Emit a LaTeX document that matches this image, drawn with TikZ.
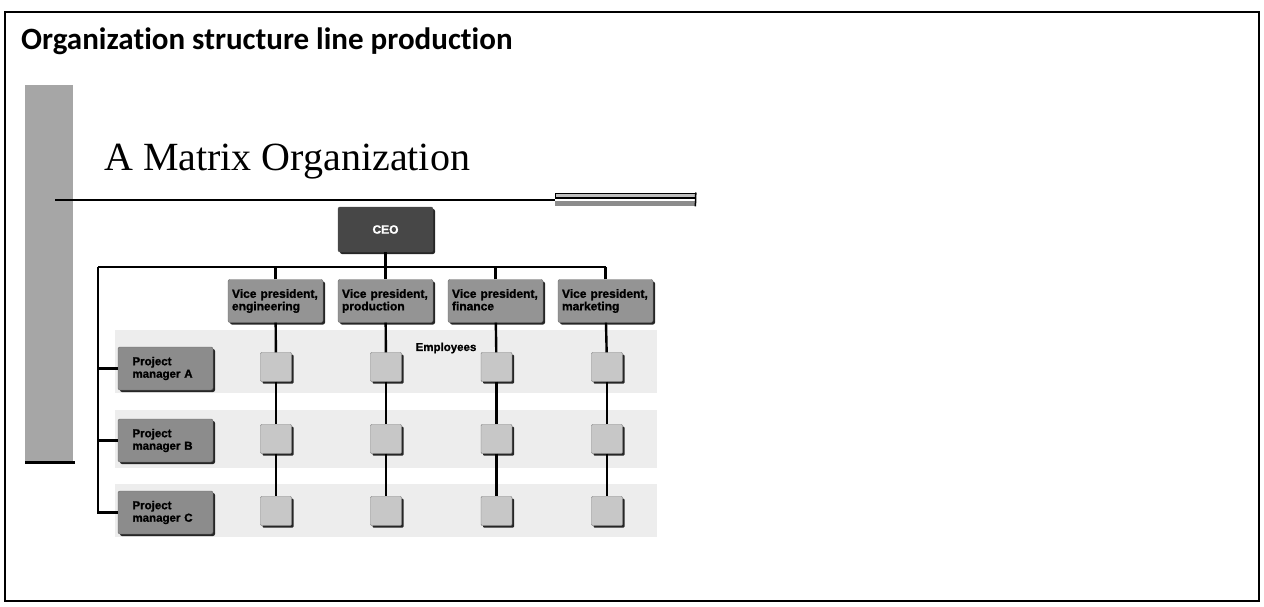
\documentclass[tikz,border=0pt]{standalone}
\usepackage{fontspec}
\setmainfont{Liberation Serif}
\newfontfamily\titlefont[Ligatures=NoCommon]{Carlito}
\newfontfamily\boxfont{Liberation Sans}[BoldFeatures={FakeBold=1.2}]
\usetikzlibrary{shadows}
\begin{document}
\begin{tikzpicture}[x=1pt,y=-1pt,
  frameline/.style={draw=black, line width=1.6pt},
  conn/.style={draw=black, line width=2.4pt},
  shd/.style={drop shadow={fill=black!85, opacity=1, shadow xshift=2pt, shadow yshift=-2pt}},
  vpbox/.style={shd, draw=black!60, fill=black!42, rounded corners=2pt, minimum width=95pt, minimum height=43pt, text width=87pt, inner sep=4pt, align=left, font=\boxfont\bfseries\fontsize{12}{12.5}\selectfont},
  pmbox/.style={shd, draw=black!60, fill=black!45, rounded corners=2pt, minimum width=95pt, minimum height=43pt, text width=66pt, inner sep=4pt, align=left, font=\boxfont\bfseries\fontsize{11.5}{12.5}\selectfont},
  ceobox/.style={shd, draw=black!70, fill=black!72, rounded corners=2pt, minimum width=95pt, minimum height=45pt, text=white, font=\boxfont\bfseries\fontsize{12}{14}\selectfont},
  empbox/.style={shd, draw=black!55, fill=black!22, rounded corners=1pt, minimum width=31pt, minimum height=29pt, inner sep=0pt},
  band/.style={fill=black!7},
  sidebar/.style={fill=black!35},
]
\useasboundingbox (0,0) rectangle (1264,606);
% outer frame
\draw[frameline] (5,12) rectangle (1259,601);
% titles
\node[anchor=base west, inner sep=0pt, font=\titlefont\bfseries\fontsize{31}{36}\selectfont] (title) at (21,49) {Organization structure line production};
% side bar
\fill[sidebar] (25,85) rectangle (73,462);
\draw[line width=3pt] (25,462.5) -- (75,462.5);
\node[anchor=base west, inner sep=0pt, font=\fontsize{40}{46}\selectfont] (mtitle) at (104,170) {A Matrix Organization};
% rule with double strip
\coordinate (ruleL) at (55,200);
\coordinate (ruleR) at (555,200);
\draw[line width=2pt] (ruleL) -- (ruleR);
\node[draw=black, line width=0.8pt, fill=black!25, minimum width=140pt, minimum height=5pt, inner sep=0pt, anchor=north west] (stripU) at (555,192.5) {};
\node[fill=black!45, minimum width=140pt, minimum height=5pt, inner sep=0pt, anchor=north west] (stripL) at (555,201) {};
\draw[line width=2pt] (stripU.south west) -- (stripU.south east);
\draw[line width=1.5pt] (stripU.north east) -- (stripL.south east);
% background bands
\fill[band] (115,330) rectangle (657,393);
\fill[band] (115,410) rectangle (657,468);
\fill[band] (115,484) rectangle (657,537);
% nodes
\node[ceobox] (ceo) at (385.5,229.5) {CEO};
\node[vpbox] (vp1) at (275.5,301) {Vice president,\\engineering};
\node[vpbox] (vp2) at (385.5,301) {Vice president,\\production};
\node[vpbox] (vp3) at (495.5,301) {Vice president,\\finance\vphantom{g}};
\node[vpbox] (vp4) at (605.5,301) {Vice president,\\marketing};
\node[pmbox] (pmA) at (165.5,368.5) {Project\\manager A};
\node[pmbox] (pmB) at (165.5,440.5) {Project\\manager B};
\node[pmbox] (pmC) at (165.5,512.5) {Project\\manager C};
\node[font=\boxfont\bfseries\fontsize{11.5}{12}\selectfont, inner sep=0pt] (emp) at (446,348) {Employees};
\foreach \c/\x in {1/276,2/386,3/496.5,4/607}{
  \node[empbox] (e\c a) at (\x,367) {};
  \node[empbox] (e\c b) at (\x,439) {};
  \node[empbox] (e\c c) at (\x,511) {};
}
% connectors
\coordinate (busL) at (98,267);
\coordinate (busR) at (605.5,267);
\draw[conn] (busL) -- (busR);
\draw[conn] (ceo) -- (vp2);
\draw[conn] (vp1.north) -- (vp1.north |- busL);
\draw[conn] (vp3.north) -- (vp3.north |- busL);
\draw[conn] (vp4.north) -- (vp4.north |- busL);
\draw[conn] (busL) |- (pmA.west);
\draw[conn] (busL) |- (pmB.west);
\draw[conn] (busL) |- (pmC.west);
\foreach \c in {1,2,3,4}{
  \draw[conn] (vp\c) -- (e\c a);
  \draw[conn] (e\c a) -- (e\c b);
  \draw[conn] (e\c b) -- (e\c c);
}
\end{tikzpicture}
\end{document}
